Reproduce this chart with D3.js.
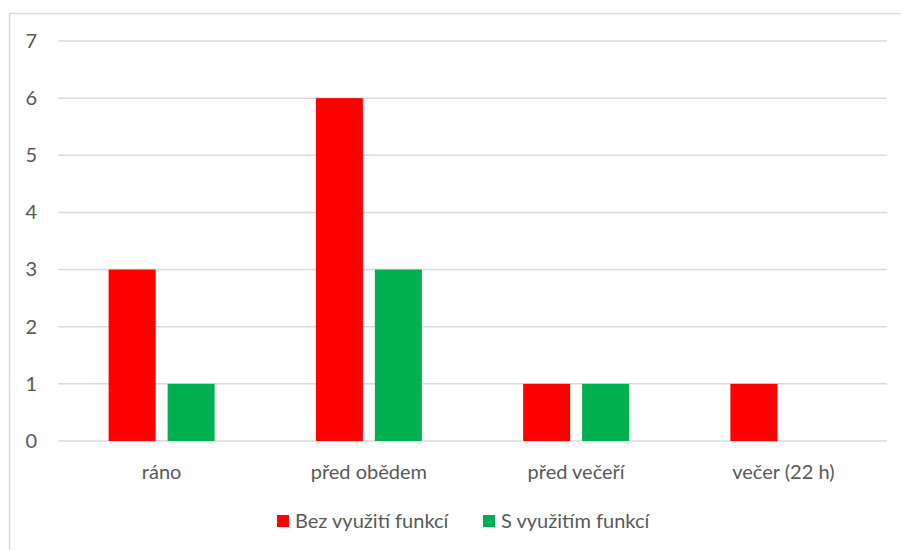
<!DOCTYPE html>
<html><head><meta charset="utf-8">
<script src="https://cdn.jsdelivr.net/npm/d3@7"></script>
<style>body{margin:0;background:#fff;} text{font-family:Lato,"Open Sans",sans-serif;fill:#595959;}</style>
</head><body><svg id="c" width="901" height="550"></svg>
<script>
(function(){
const categories = ["ráno", "před obědem", "před večeří", "večer (22 h)"];
const seriesNames = ["Bez využití funkcí", "S využitím funkcí"];
const bezValues = [3, 6, 1, 1];
const sValues = [1, 3, 1, 0];
const yTicks = [0, 1, 2, 3, 4, 5, 6, 7];
const colors = ["#ff0000", "#00b050"];
const FS = "20px";

const svg = d3.select("#c");
svg.append("rect").attr("x", 9.5).attr("y", 13.5).attr("width", 1000).attr("height", 1000)
  .attr("fill", "none").attr("stroke", "#d9d9d9").attr("stroke-width", 1.5);

const pLeft = 58, pRight = 887, pTop = 41, pBottom = 441;
const x = d3.scaleBand().domain(categories).range([pLeft, pRight]);
const y = d3.scaleLinear().domain([0, 7]).range([pBottom, pTop]);
const barW = 47, gap = 12;
const x1 = d3.scaleOrdinal().domain([0, 1]).range([-(barW + gap / 2), gap / 2]);

svg.append("g").selectAll("line").data(yTicks).join("line")
  .attr("x1", pLeft).attr("x2", pRight)
  .attr("y1", d => y(d)).attr("y2", d => y(d))
  .attr("stroke", "#d9d9d9").attr("stroke-width", 1.5);

const yAxis = d3.axisLeft(y).tickValues(yTicks).tickFormat(d3.format("d")).tickSize(0).tickPadding(0);
const ga = svg.append("g").attr("transform", "translate(37,0)").call(yAxis);
ga.select(".domain").remove();
ga.selectAll("text").style("font-size", FS).attr("fill", "#595959").attr("font-family", "Lato, 'Open Sans', sans-serif");

const series = [bezValues, sValues];
series.forEach((vals, si) => {
  svg.append("g").selectAll("rect").data(vals).join("rect")
    .attr("x", (d, i) => x(categories[i]) + x.bandwidth() / 2 + x1(si))
    .attr("width", barW)
    .attr("y", d => y(d))
    .attr("height", d => y(0) - y(d))
    .attr("fill", colors[si]);
});

const xAxis = d3.axisBottom(x).tickSize(0).tickPadding(0);
const gx = svg.append("g").attr("transform", "translate(0,0)").call(xAxis);
gx.select(".domain").remove();
gx.selectAll("text").attr("y", 479).attr("dy", 0).style("font-size", FS).attr("fill", "#595959").attr("font-family", "Lato, 'Open Sans', sans-serif");

const legX = [277, 483];
const lg = svg.append("g");
seriesNames.forEach((n, i) => {
  lg.append("rect").attr("x", legX[i]).attr("y", 515).attr("width", 12).attr("height", 12).attr("fill", colors[i]);
  lg.append("text").attr("x", legX[i] + 18).attr("y", 528).style("font-size", FS).text(n);
});
})();
</script></body></html>
